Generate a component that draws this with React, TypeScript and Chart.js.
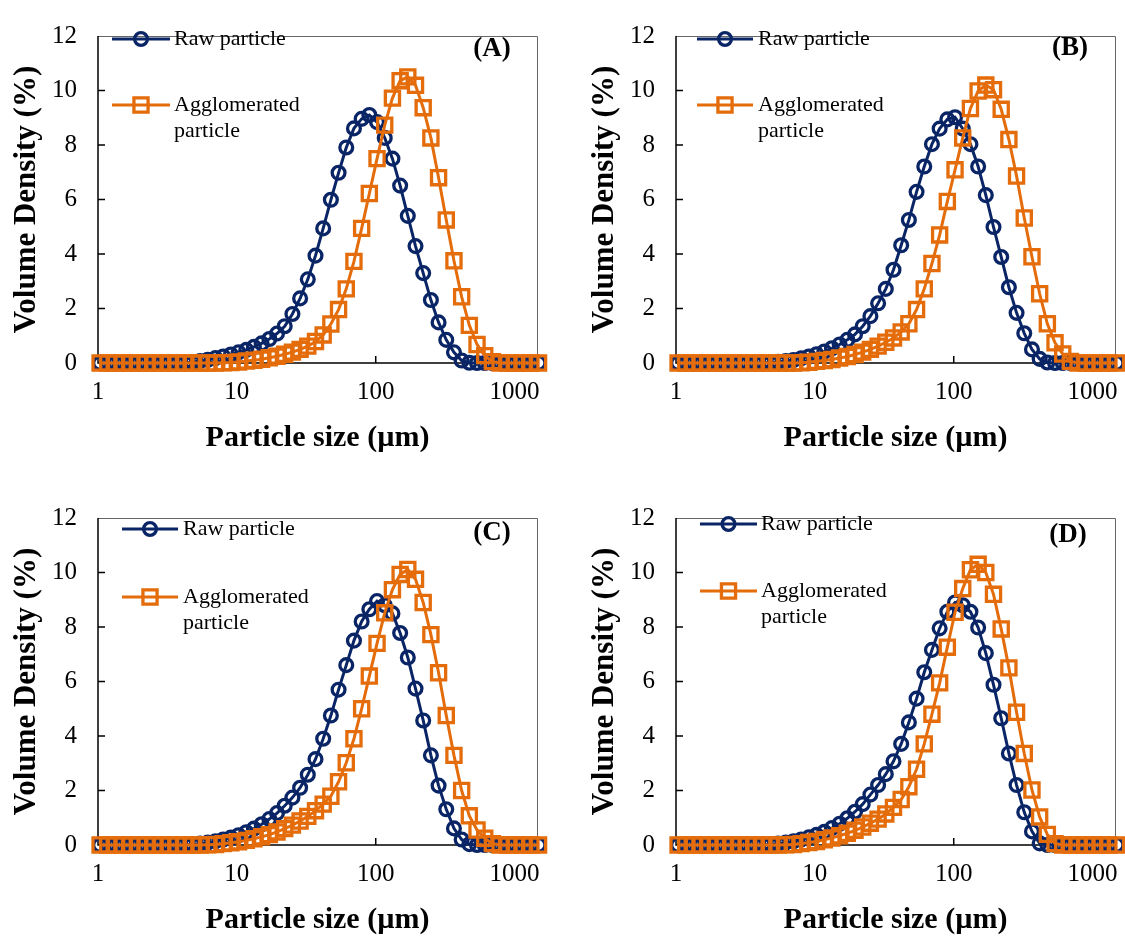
import React, { useEffect, useRef } from 'react';
import { Chart, registerables } from 'chart.js';

Chart.register(...registerables);

// Particle size classes (µm), log-spaced
const SIZES = [
  1.035, 1.176, 1.336, 1.517, 1.723, 1.958, 2.224, 2.528, 2.872, 3.263,
  3.707, 4.211, 4.784, 5.435, 6.174, 7.014, 7.969, 9.053, 10.28, 11.69,
  13.27, 15.08, 17.13, 19.46, 22.11, 25.12, 28.54, 32.42, 36.83, 41.84,
  47.53, 54.0, 61.35, 69.69, 79.17, 89.95, 102.2, 116.1, 131.9, 149.9,
  170.2, 193.4, 219.7, 249.6, 283.5, 322.1, 365.9, 415.7, 472.3, 536.5,
  609.5, 692.5, 786.7, 893.7, 1015, 1153, 1310, 1488,
];

// Panel A
const A_RAW = [
  0, 0, 0, 0, 0, 0, 0, 0, 0, 0, 0,
  0.01, 0.03, 0.07, 0.12, 0.18, 0.24, 0.31, 0.39, 0.48, 0.59,
  0.72, 0.88, 1.08, 1.35, 1.8, 2.37, 3.07, 3.94, 4.94, 5.99,
  6.98, 7.91, 8.61, 8.96, 9.1, 8.84, 8.26, 7.5, 6.51, 5.4,
  4.29, 3.3, 2.31, 1.49, 0.85, 0.39, 0.09, 0.01,
  0, 0, 0, 0, 0, 0, 0, 0, 0,
];
const A_AGG = [
  0, 0, 0, 0, 0, 0, 0, 0, 0, 0, 0, 0, 0, 0, 0, 0,
  0.01, 0.02, 0.04, 0.07, 0.1, 0.14, 0.19, 0.25, 0.32, 0.4,
  0.5, 0.62, 0.79, 1.03, 1.43, 1.96, 2.72, 3.73, 4.94, 6.22,
  7.5, 8.73, 9.72, 10.36, 10.5, 10.19, 9.37, 8.26, 6.8, 5.25,
  3.75, 2.43, 1.38, 0.68, 0.27, 0.05,
  0, 0, 0, 0, 0, 0,
];

// Panel B
const B_RAW = [
  0, 0, 0, 0, 0, 0, 0, 0, 0, 0, 0,
  0.01, 0.02, 0.04, 0.07, 0.11, 0.17, 0.24, 0.32, 0.42, 0.54,
  0.68, 0.85, 1.05, 1.35, 1.72, 2.19, 2.72, 3.42, 4.32, 5.25,
  6.28, 7.21, 8.03, 8.6, 8.94, 9.02, 8.6, 8.03, 7.21, 6.16,
  4.99, 3.89, 2.78, 1.84, 1.09, 0.5, 0.15, 0.02,
  0, 0, 0, 0, 0, 0, 0, 0, 0,
];
const B_AGG = [
  0, 0, 0, 0, 0, 0, 0, 0, 0, 0, 0, 0, 0, 0, 0, 0,
  0.01, 0.03, 0.06, 0.09, 0.13, 0.18, 0.24, 0.31, 0.4, 0.5,
  0.62, 0.76, 0.92, 1.14, 1.44, 1.96, 2.72, 3.65, 4.7, 5.93,
  7.09, 8.26, 9.34, 9.98, 10.2, 10.03, 9.31, 8.2, 6.86, 5.32,
  3.9, 2.54, 1.44, 0.74, 0.33, 0.06,
  0, 0, 0, 0, 0, 0,
];

// Panel C
const C_RAW = [
  0, 0, 0, 0, 0, 0, 0, 0, 0, 0, 0,
  0.01, 0.02, 0.05, 0.09, 0.14, 0.2, 0.27, 0.36, 0.47, 0.6,
  0.76, 0.95, 1.17, 1.44, 1.74, 2.1, 2.58, 3.15, 3.9, 4.75,
  5.7, 6.6, 7.5, 8.2, 8.65, 8.95, 8.8, 8.5, 7.78, 6.88,
  5.74, 4.57, 3.29, 2.18, 1.31, 0.61, 0.2, 0.03,
  0, 0, 0, 0, 0, 0, 0, 0, 0,
];
const C_AGG = [
  0, 0, 0, 0, 0, 0, 0, 0, 0, 0, 0, 0, 0, 0,
  0.01, 0.02, 0.05, 0.08, 0.12, 0.17, 0.23, 0.3, 0.38, 0.48,
  0.6, 0.73, 0.88, 1.05, 1.26, 1.5, 1.79, 2.32, 3.02, 3.9,
  5.0, 6.2, 7.4, 8.52, 9.37, 9.93, 10.11, 9.75, 8.9, 7.72,
  6.32, 4.75, 3.29, 2.0, 1.07, 0.55, 0.25, 0.05,
  0, 0, 0, 0, 0, 0,
];

// Panel D
const D_RAW = [
  0, 0, 0, 0, 0, 0, 0, 0, 0, 0, 0,
  0.01, 0.02, 0.05, 0.09, 0.14, 0.2, 0.28, 0.37, 0.48, 0.62,
  0.78, 0.98, 1.22, 1.5, 1.85, 2.2, 2.6, 3.07, 3.71, 4.5,
  5.37, 6.34, 7.16, 7.95, 8.56, 8.9, 8.8, 8.56, 7.98, 7.04,
  5.88, 4.65, 3.36, 2.2, 1.2, 0.5, 0.06,
  0, 0, 0, 0, 0, 0, 0, 0, 0, 0,
];
const D_AGG = [
  0, 0, 0, 0, 0, 0, 0, 0, 0, 0, 0, 0, 0, 0,
  0.01, 0.02, 0.05, 0.09, 0.13, 0.19, 0.26, 0.34, 0.43, 0.54,
  0.66, 0.8, 0.95, 1.14, 1.38, 1.67, 2.14, 2.78, 3.71, 4.8,
  5.95, 7.26, 8.54, 9.41, 10.1, 10.3, 10.0, 9.2, 7.93, 6.5,
  4.87, 3.36, 2.02, 1.03, 0.39, 0.05,
  0, 0, 0, 0, 0, 0, 0, 0,
];

const X_TICKS = [1, 10, 100, 1000];
const Y_TICK_MARKS = [2, 4, 6, 8, 10];
const PANEL_LABELS = ['(A)', '(B)', '(C)', '(D)'];
const LEGEND_RAW = 'Raw particle';
const LEGEND_AGG = ['Agglomerated', 'particle'];
const X_TITLE = 'Particle size (µm)';
const Y_TITLE = 'Volume Density (%)';

const FONT = "'Liberation Serif', 'Times New Roman', serif";
const NAVY = '#0a2566';
const ORANGE = '#e46c0a';

const CW = 560;
const CH = 460;
const CIRCLE_R = 6.4;
const RECT_R = 10;
const MARK_W = 3.3;
const LINE_W = 3;

type Lay = {
  left: number; top: number;
  lx0: number; lx1: number; tx: number;
  yRaw: number; yAgg: number; lbx: number; lby: number;
};

const LAYOUTS: Lay[] = [
  { left: 0, top: 0, lx0: 112, lx1: 170, tx: 174, yRaw: 39, yAgg: 105, lbx: 492, lby: 49 },
  { left: 578, top: 0, lx0: 119, lx1: 175, tx: 180, yRaw: 39, yAgg: 105, lbx: 492, lby: 48 },
  { left: 0, top: 482, lx0: 122, lx1: 178, tx: 183, yRaw: 47, yAgg: 115, lbx: 492, lby: 51 },
  { left: 578, top: 482, lx0: 122, lx1: 179, tx: 183, yRaw: 42, yAgg: 109, lbx: 490, lby: 53 },
];

const SERIES = [
  [A_RAW, A_AGG],
  [B_RAW, B_AGG],
  [C_RAW, C_AGG],
  [D_RAW, D_AGG],
];

function drawMarker(ctx: CanvasRenderingContext2D, kind: 'circle' | 'rect', x: number, y: number, color: string) {
  ctx.strokeStyle = color;
  ctx.lineWidth = MARK_W;
  ctx.beginPath();
  if (kind === 'circle') {
    ctx.arc(x, y, CIRCLE_R, 0, Math.PI * 2);
  } else {
    const h = RECT_R * Math.SQRT1_2;
    ctx.rect(x - h, y - h, 2 * h, 2 * h);
  }
  ctx.stroke();
}

function makeFramePlugin() {
  return {
    id: 'frame',
    beforeDatasetsDraw(chart: any) {
      const { ctx, chartArea } = chart;
      const { left, right, top, bottom } = chartArea;
      const xs = chart.scales.x;
      const ys = chart.scales.y;
      ctx.save();
      ctx.lineWidth = 1;
      ctx.strokeStyle = '#666';
      ctx.beginPath();
      ctx.moveTo(left, top + 0.5);
      ctx.lineTo(right + 0.5, top + 0.5);
      ctx.lineTo(right + 0.5, bottom);
      ctx.stroke();
      ctx.strokeStyle = '#000';
      ctx.lineWidth = 1.5;
      ctx.beginPath();
      ctx.moveTo(left, top);
      ctx.lineTo(left, bottom);
      ctx.lineTo(right + 1, bottom);
      ctx.stroke();
      ctx.lineWidth = 1.5;
      ctx.beginPath();
      for (const v of Y_TICK_MARKS) {
        const py = ys.getPixelForValue(v);
        ctx.moveTo(left, py);
        ctx.lineTo(left + 7, py);
      }
      for (const v of X_TICKS.slice(1)) {
        const px = xs.getPixelForValue(v);
        ctx.moveTo(px, bottom);
        ctx.lineTo(px, bottom - 7);
      }
      ctx.stroke();
      ctx.restore();
    },
  };
}

function makeOverlayPlugin(lay: Lay, label: string) {
  return {
    id: 'overlay',
    afterDatasetsDraw(chart: any) {
      const ctx: CanvasRenderingContext2D = chart.ctx;
      ctx.save();
      ctx.lineWidth = LINE_W;
      ctx.strokeStyle = NAVY;
      ctx.beginPath();
      ctx.moveTo(lay.lx0, lay.yRaw);
      ctx.lineTo(lay.lx1, lay.yRaw);
      ctx.stroke();
      drawMarker(ctx, 'circle', (lay.lx0 + lay.lx1) / 2, lay.yRaw, NAVY);
      ctx.lineWidth = LINE_W;
      ctx.strokeStyle = ORANGE;
      ctx.beginPath();
      ctx.moveTo(lay.lx0, lay.yAgg);
      ctx.lineTo(lay.lx1, lay.yAgg);
      ctx.stroke();
      drawMarker(ctx, 'rect', (lay.lx0 + lay.lx1) / 2, lay.yAgg, ORANGE);
      ctx.fillStyle = '#000';
      ctx.font = `22px ${FONT}`;
      ctx.textAlign = 'left';
      ctx.textBaseline = 'middle';
      ctx.fillText(LEGEND_RAW, lay.tx, lay.yRaw);
      ctx.fillText(LEGEND_AGG[0], lay.tx, lay.yAgg);
      ctx.fillText(LEGEND_AGG[1], lay.tx, lay.yAgg + 26.5);
      ctx.font = `bold 27px ${FONT}`;
      ctx.textAlign = 'center';
      ctx.fillText(label, lay.lbx, lay.lby);
      ctx.restore();
    },
  };
}

function Panel({ idx }: { idx: number }) {
  const ref = useRef<HTMLCanvasElement | null>(null);
  const lay = LAYOUTS[idx];
  useEffect(() => {
    const canvas = ref.current;
    if (!canvas) return;
    const [raw, agg] = SERIES[idx];
    const tickFont = { family: FONT, size: 25 };
    const chart = new Chart(canvas, {
      type: 'line',
      data: {
        datasets: [
          {
            label: 'Agglomerated particle',
            data: SIZES.map((x, i) => ({ x, y: agg[i] })),
            borderColor: ORANGE,
            borderWidth: LINE_W,
            pointStyle: 'rect',
            pointRadius: RECT_R,
            pointBorderWidth: MARK_W,
            pointBorderColor: ORANGE,
            pointBackgroundColor: 'rgba(0,0,0,0)',
            tension: 0,
            clip: false as any,
            order: 0,
          },
          {
            label: 'Raw particle',
            data: SIZES.map((x, i) => ({ x, y: raw[i] })),
            borderColor: NAVY,
            borderWidth: LINE_W,
            pointStyle: 'circle',
            pointRadius: CIRCLE_R,
            pointBorderWidth: MARK_W,
            pointBorderColor: NAVY,
            pointBackgroundColor: 'rgba(0,0,0,0)',
            tension: 0,
            clip: false as any,
            order: 1,
          },
        ],
      },
      options: {
        responsive: false,
        animation: false,
        events: [],
        layout: { padding: { left: 0, top: 20, right: 23, bottom: 0 } },
        plugins: {
          legend: { display: false },
          tooltip: { enabled: false },
          title: { display: false },
        },
        scales: {
          x: {
            type: 'logarithmic',
            min: 1,
            max: 1450,
            afterBuildTicks: (axis: any) => {
              axis.ticks = X_TICKS.map((value) => ({ value }));
            },
            afterFit: (axis: any) => {
              axis.height = 97;
            },
            ticks: {
              autoSkip: false,
              maxRotation: 0,
              minRotation: 0,
              padding: 14,
              color: '#000',
              font: tickFont,
              callback: (v: any) => String(v),
            },
            grid: { display: false, drawTicks: false },
            border: { display: false },
            title: {
              display: true,
              text: X_TITLE,
              color: '#000',
              font: { family: FONT, size: 30, weight: 'bold' },
              padding: { top: 4, bottom: 4 },
            },
          },
          y: {
            type: 'linear',
            min: 0,
            max: 12,
            afterFit: (axis: any) => {
              axis.width = 98;
            },
            ticks: {
              stepSize: 2,
              padding: 21,
              color: '#000',
              font: tickFont,
            },
            grid: { display: false, drawTicks: false },
            border: { display: false },
            title: {
              display: true,
              text: Y_TITLE,
              color: '#000',
              font: { family: FONT, size: 31, weight: 'bold' },
              padding: { top: 8, bottom: 0 },
            },
          },
        },
      } as any,
      plugins: [makeFramePlugin(), makeOverlayPlugin(lay, PANEL_LABELS[idx])],
    });
    return () => chart.destroy();
  }, [idx]);
  return (
    <canvas
      ref={ref}
      width={CW}
      height={CH}
      style={{ position: 'absolute', left: lay.left, top: lay.top, width: CW, height: CH }}
    />
  );
}

export default function App() {
  return (
    <div
      style={{
        position: 'absolute',
        left: 0,
        top: 0,
        width: 1125,
        height: 936,
        background: '#fff',
        overflow: 'hidden',
      }}
    >
      {[0, 1, 2, 3].map((i) => (
        <Panel key={i} idx={i} />
      ))}
    </div>
  );
}
